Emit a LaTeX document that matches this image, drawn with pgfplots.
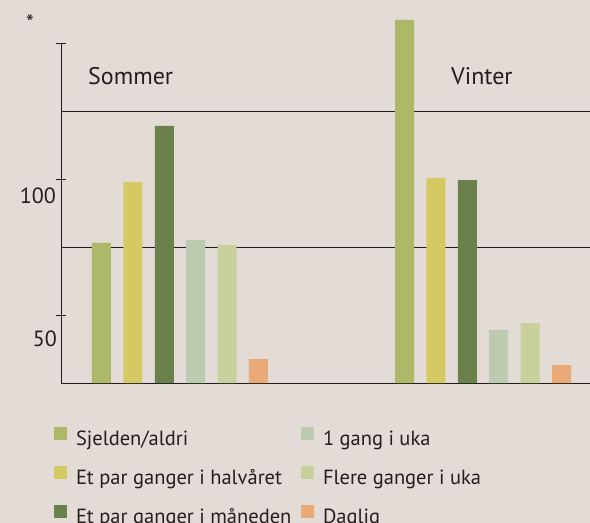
\documentclass[border=0pt]{standalone}
\usepackage{fontspec}
\setmainfont{PT Sans}
\usepackage{pgfplots}
\pgfplotsset{compat=1.18}
\definecolor{bg}{HTML}{E3DBD5}
\definecolor{txt}{HTML}{231F20}
\definecolor{linecol}{HTML}{1E1C1B}
\definecolor{cA}{HTML}{ADB868}
\definecolor{cB}{HTML}{D4C963}
\definecolor{cC}{HTML}{6B814C}
\definecolor{cD}{HTML}{BCCBB0}
\definecolor{cE}{HTML}{C8D09C}
\definecolor{cF}{HTML}{EAAA77}
\newcommand\F{\fontsize{24bp}{28bp}\selectfont}
\newcommand\T{\fontsize{22bp}{26bp}\selectfont}
\newcommand\LF{\fontsize{20.5bp}{24bp}\selectfont}
\begin{document}
\begin{tikzpicture}
\fill[bg] (0bp,0bp) rectangle (590bp,-523bp);
\useasboundingbox (0bp,0bp) rectangle (590bp,-523bp);
\begin{axis}[
  at={(61bp,-383bp)}, anchor=south west,
  scale only axis, width=529bp, height=367.2bp,
  xmin=-0.3927, xmax=1.3531, ymin=25, ymax=160,
  enlargelimits=false,
  axis x line=bottom, axis y line=left,
  axis line style={-, line width=1bp, color=linecol},
  y axis line style={draw=none},
  xtick=\empty,
  ytick={50,100,150}, yticklabels={},
  tick align=center, major tick length=10bp,
  tick style={line width=1bp, color=linecol},
  extra y ticks={75,125}, extra y tick labels={},
  extra y tick style={grid=major, major tick length=0pt},
  grid style={line width=1bp, color=linecol},
  ybar=12.4bp, bar width=19bp,
  every axis plot post/.append style={legend image code/.code={\fill[##1] (0bp,0bp) rectangle (13bp,13bp);}},
  legend columns=3, transpose legend,
  legend cell align=left,
  legend style={draw=none, fill=none, inner sep=0pt, outer sep=0pt,
    at={(-0.01323,-0.1198)}, anchor=north west,
    row sep=14.4bp, column sep=0pt,
    font=\LF, text=txt,
    nodes={inner sep=0pt, text height=17bp, text depth=6bp},
    /tikz/every odd column/.append style={column sep=9bp},
    /tikz/every even column/.append style={column sep=0bp}},
]
\addplot[fill=cA, draw=none] coordinates {(0,76.5) (1,158.5)};
\addplot[fill=cB, draw=none] coordinates {(0,98.9) (1,100.4)};
\addplot[fill=cC, draw=none] coordinates {(0,119.5) (1,99.6)};
\addplot[fill=cD, draw=none] coordinates {(0,77.6) (1,44.5)};
\addplot[fill=cE, draw=none] coordinates {(0,75.7) (1,47.0)};
\addplot[fill=cF, draw=none] coordinates {(0,33.8) (1,31.6)};
\legend{\makebox[225bp][l]{Sjelden/aldri},
        \makebox[225bp][l]{Et par ganger i halvåret},
        \makebox[225bp][l]{Et par ganger i måneden},
        1 gang i uka, Flere ganger i uka, Daglig}
\end{axis}
\draw[linecol, line width=1bp] (61.5bp,-383bp) -- (61.5bp,-43bp);
\node[anchor=base west, font=\F, text=txt, inner sep=0pt] at (88bp,-84bp) {Sommer};
\node[anchor=base west, font=\F, text=txt, inner sep=0pt] at (451bp,-84bp) {Vinter};
\node[anchor=base east, font=\T, text=txt, inner sep=0pt] at (56bp,-203bp) {100};
\node[anchor=base east, font=\T, text=txt, inner sep=0pt] at (57bp,-346bp) {50};
\node[anchor=base, font=\T, text=txt, inner sep=0pt] at (30bp,-30bp) {*};
\end{tikzpicture}
\end{document}
